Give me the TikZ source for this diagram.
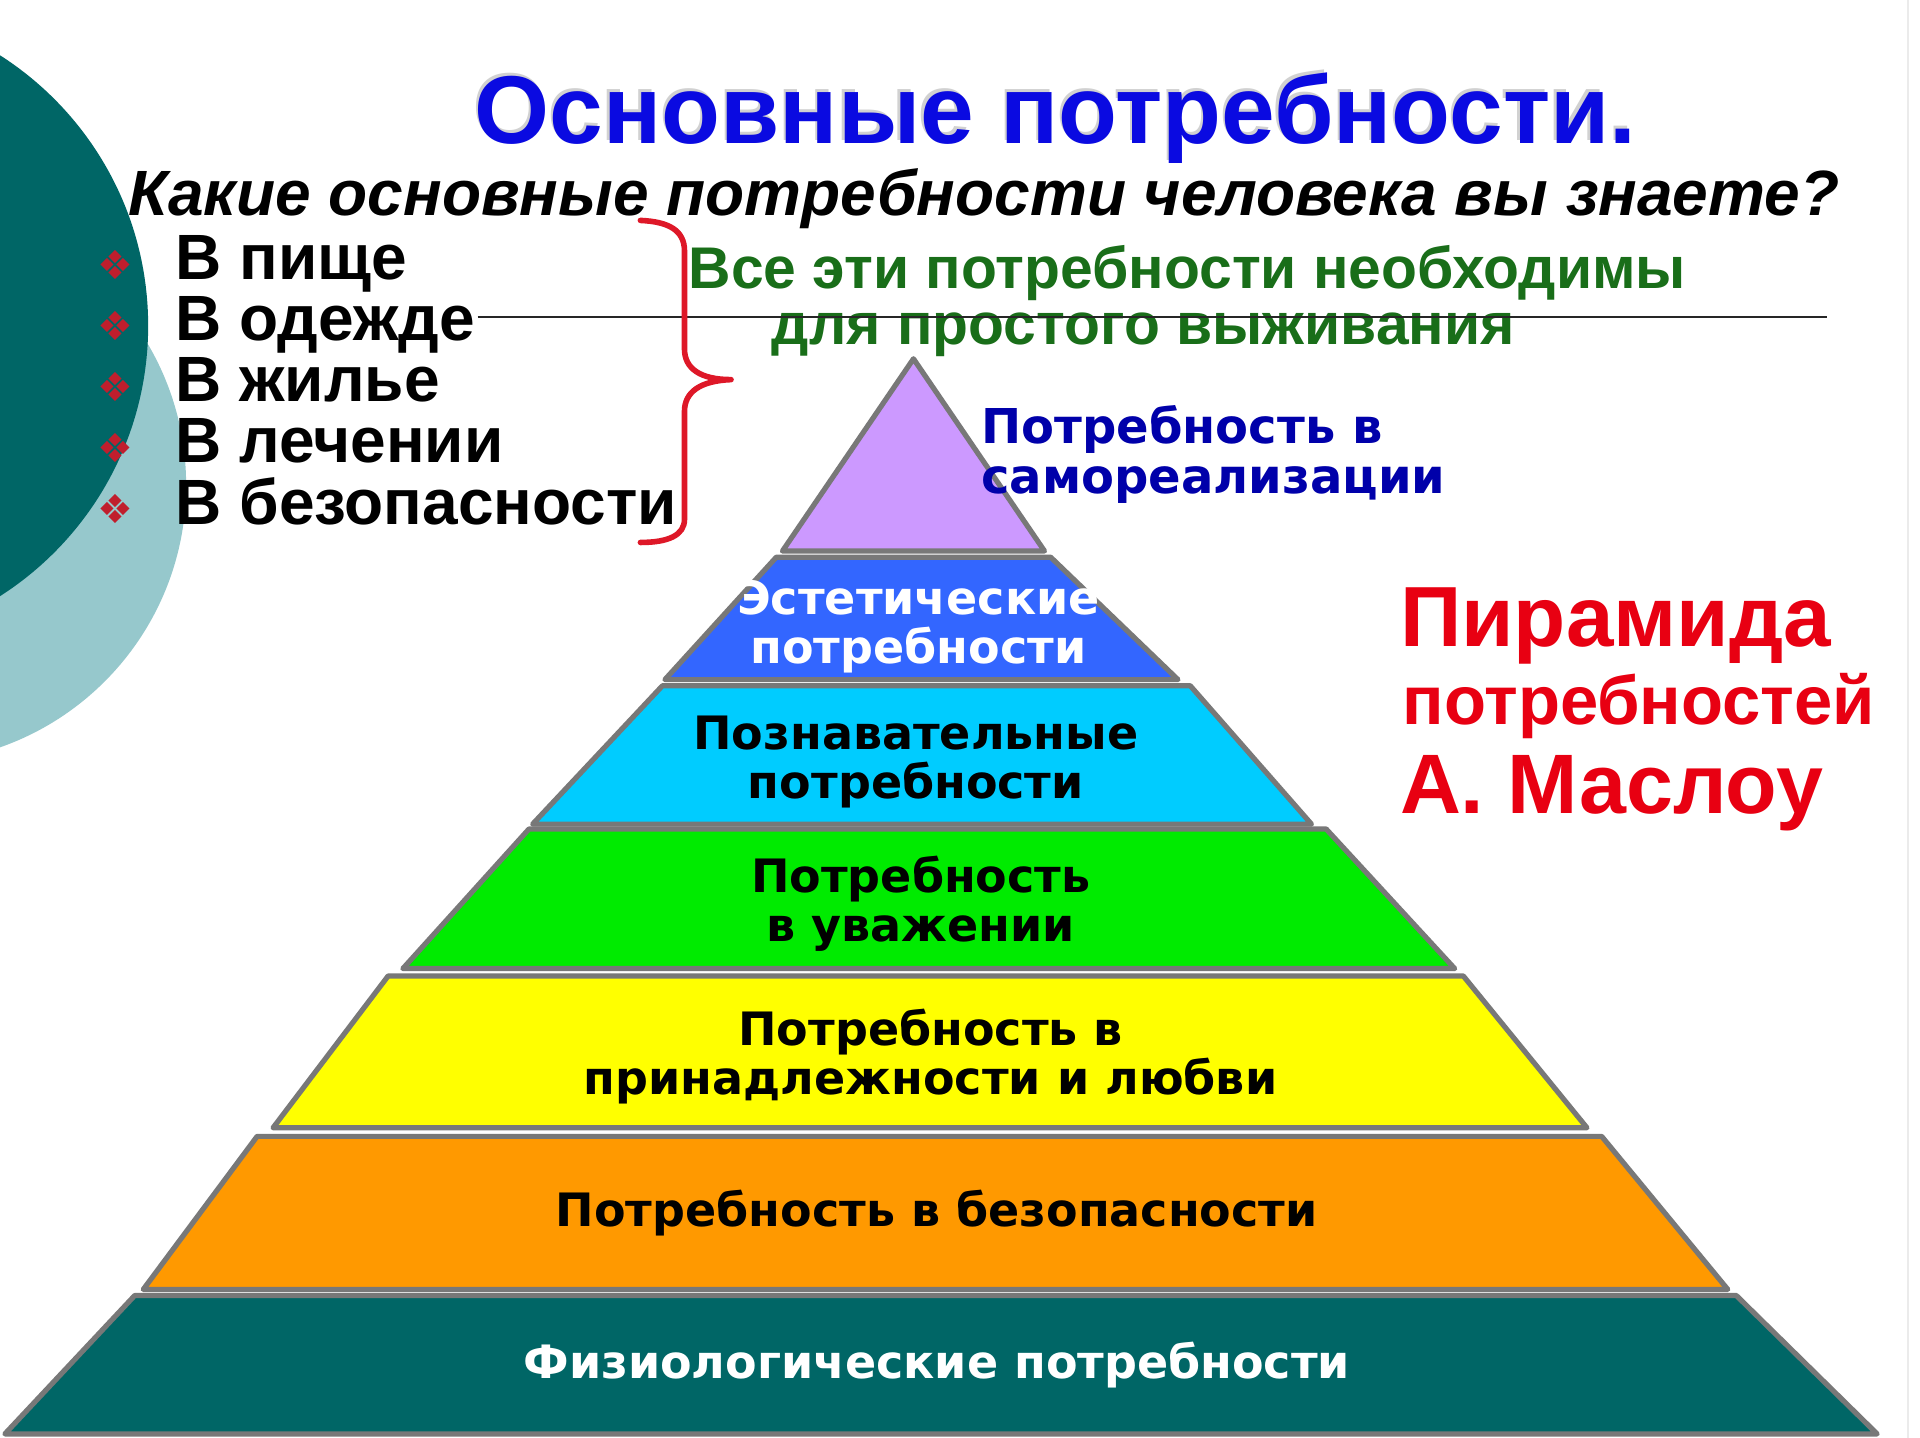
\documentclass[tikz,border=0pt]{standalone}
\usepackage{fontspec}
\setmainfont{Liberation Sans}
\newfontfamily\pyrfont{DejaVu Sans}
\newfontfamily\bulfont{DejaVu Sans}

\definecolor{darkteal}{RGB}{0,102,102}
\definecolor{lightteal}{RGB}{150,200,204}
\definecolor{titleblue}{RGB}{10,10,225}
\definecolor{navyblue}{RGB}{0,0,170}
\definecolor{bracered}{RGB}{222,24,40}
\definecolor{textred}{RGB}{232,0,18}
\definecolor{bulred}{RGB}{192,30,45}
\definecolor{textgreen}{RGB}{25,110,25}
\definecolor{tierline}{RGB}{120,120,120}
\definecolor{tierpurple}{RGB}{204,153,255}
\definecolor{tierblue}{RGB}{51,102,255}
\definecolor{tiercyan}{RGB}{0,204,255}
\definecolor{tiergreen}{RGB}{0,235,0}
\definecolor{tieryellow}{RGB}{255,255,0}
\definecolor{tierorange}{RGB}{255,153,0}

\begin{document}
\begin{tikzpicture}[x=0.6122pt,y=0.6122pt,yscale=-1,xscale=1,
  tier/.style={draw=tierline, line width=2.6pt, line join=round},
  pyrtext/.style={font=\pyrfont\bfseries\fontsize{23}{24.5}\selectfont, align=center, inner sep=0pt},
  listtext/.style={font=\bfseries\fontsize{32}{36}\selectfont, anchor=base west, inner sep=0pt},
  bullet/.style={font=\bulfont\fontsize{20}{22}\selectfont, text=bulred, inner sep=0pt},
  greentext/.style={font=\bfseries\fontsize{29.4}{33}\selectfont, text=textgreen, anchor=base west, inner sep=0pt},
  redtext/.style={text=textred, anchor=base west, inner sep=0pt}]
\useasboundingbox (0,0) rectangle (1568,1174);
\fill [white] (0,0) rectangle (1568,1174);

%Shape: Circles [background]
\begin{scope}
\clip (0,0) rectangle (1568,1174);
\fill [lightteal] (-75,396) circle [radius=227];
\fill [darkteal] (-141,266) circle [radius=262];
\end{scope}
%Straight Lines [slide border]
\draw [black!8, line width=1pt] (1558,0) -- (1558,1174);

% Text Node
\node [font=\bfseries\fontsize{48.2}{53}\selectfont, text=black!18, anchor=base, inner sep=0pt] (titleshadow) at (860,115) {Основные потребности.};
\node [font=\bfseries\fontsize{48.2}{53}\selectfont, text=titleblue, anchor=base, inner sep=0pt] (title) at (862,117) {Основные потребности.};
% Text Node
\node [font=\bfseries\itshape\fontsize{32}{36}\selectfont, anchor=base west, inner sep=0pt] (question) at (105,176) {Какие основные потребности человека вы знаете?};

% Bullet list
\foreach \i/\txt in {0/В пище,1/В одежде,2/В жилье,3/В лечении,4/В безопасности}{
  \node [bullet] (bul\i) at (94,{216+50*\i}) {❖};
  \node [listtext] (need\i) at (143,{228+50*\i}) {\txt};
}

% Text Node
\node [greentext] (survive1) at (562,236) {Все эти потребности необходимы};
\node [greentext] (survive2) at (630,281) {для простого выживания};

%Straight Lines
\draw [black!85, line width=1.1pt] (390,259) -- (1492,259);

%Curve Lines [brace]
\draw [bracered, line width=2.8pt, line cap=round, line join=round] (523,180) .. controls (546,181) and (559,188) .. (559,205) -- (559,285) .. controls (559,301) and (572,310) .. (597,310) .. controls (572,311) and (559,320) .. (559,336) -- (559,424) .. controls (559,437) and (546,443) .. (523,443);

%Shape: Pyramid tiers
\draw [tier, fill=darkteal] (110,1058) -- (1418,1058) -- (1533,1171) -- (4,1171) -- cycle;
\draw [tier, fill=tierorange] (210,928) -- (1308,928) -- (1411,1053) -- (117,1053) -- cycle;
\draw [tier, fill=tieryellow] (317,797) -- (1195,797) -- (1296,921) -- (223,921) -- cycle;
\draw [tier, fill=tiergreen] (432,677) -- (1083,677) -- (1188,791) -- (329,791) -- cycle;
\draw [tier, fill=tiercyan] (541,560) -- (972,560) -- (1071,673) -- (435,673) -- cycle;
\draw [tier, fill=tierblue] (634,455) -- (858,455) -- (962,555) -- (543,555) -- cycle;
\draw [tier, fill=tierpurple] (746,293) -- (853,450) -- (639,450) -- cycle;

% Text Node
\node [pyrtext, font=\pyrfont\bfseries\fontsize{24}{25}\selectfont, text=navyblue, align=left, anchor=west] (selfreal) at (801,371) {Потребность в\\самореализации};
\node [pyrtext, text=white] (aesthetic) at (750,512) {Эстетические\\потребности};
\node [pyrtext] (cognitive) at (748,622) {Познавательные\\потребности};
\node [pyrtext] (esteem) at (752,738) {Потребность\\в уважении};
\node [pyrtext] (love) at (760,863) {Потребность в\\принадлежности и любви};
\node [pyrtext, anchor=base] (safety) at (765,1002) {Потребность в безопасности};
\node [pyrtext, text=white, anchor=base] (physio) at (765,1126) {Физиологические потребности};

% Text Node
\node [redtext, font=\bfseries\fontsize{42.7}{47}\selectfont] (pyr1) at (1143,528) {Пирамида};
\node [redtext, font=\bfseries\fontsize{34.4}{38}\selectfont] (pyr2) at (1145,592) {потребностей};
\node [redtext, font=\bfseries\fontsize{42.2}{47}\selectfont] (pyr3) at (1143,664) {А. Маслоу};

\end{tikzpicture}
\end{document}
